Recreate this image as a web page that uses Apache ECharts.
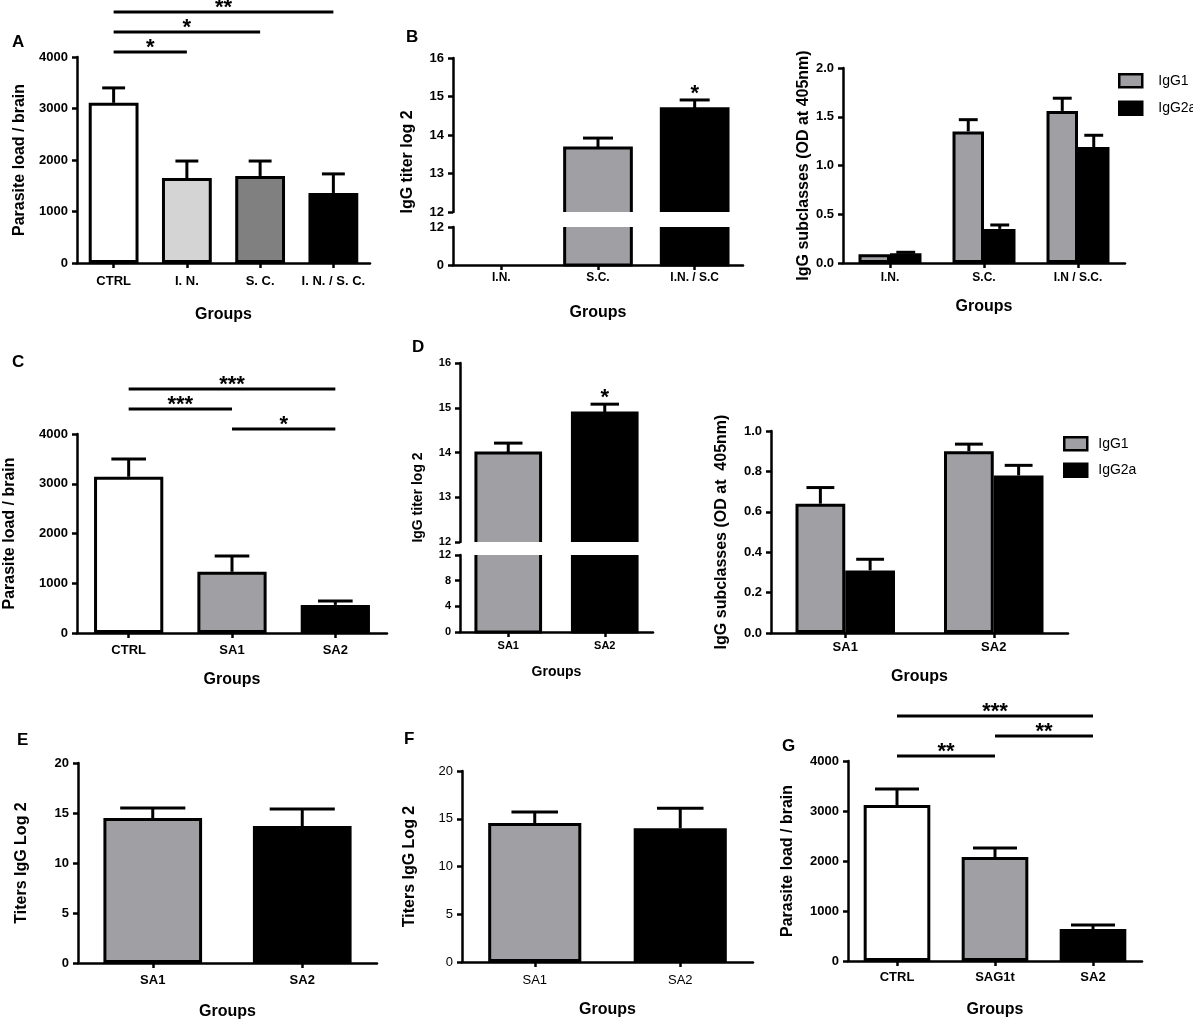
<!DOCTYPE html>
<html>
<head>
<meta charset="utf-8">
<script src="https://cdn.jsdelivr.net/npm/echarts@6/dist/echarts.min.js"></script>
<style>html,body{margin:0;padding:0;background:#fff}#c{width:1193px;height:1023px}</style>
</head>
<body>
<div id="c"></div>
<script>
// ---------- DATA ----------
// Panel A
const catA = ['CTRL', 'I. N.', 'S. C.', 'I. N. / S. C.'];
const valA = [3110, 1650, 1690, 1360];
const errA = [290, 330, 290, 370];
const sigA = [
  { from: 0, to: 1, level: 0, label: '*' },
  { from: 0, to: 2, level: 1, label: '*' },
  { from: 0, to: 3, level: 2, label: '**' }
];
// Panel B (titer)
const catB = ['I.N.', 'S.C.', 'I.N. / S.C'];
const valB = [0, 13.66, 14.68];
const errB = [0, 0.26, 0.23];
const starB = ['', '', '*'];
// Panel B (subclasses)
const catB2 = ['I.N.', 'S.C.', 'I.N / S.C.'];
const igg1B = [0.09, 1.35, 1.56];
const igg1BErr = [0.0, 0.12, 0.13];
const igg2aB = [0.10, 0.35, 1.19];
const igg2aBErr = [0.01, 0.04, 0.12];
// Panel C
const catC = ['CTRL', 'SA1', 'SA2'];
const valC = [3140, 1230, 565];
const errC = [360, 320, 80];
const sigC = [
  { from: 1, to: 2, level: 0, label: '*' },
  { from: 0, to: 1, level: 1, label: '***' },
  { from: 0, to: 2, level: 2, label: '***' }
];
// Panel D (titer)
const catD = ['SA1', 'SA2'];
const valD = [13.99, 14.88];
const errD = [0.22, 0.20];
const starD = ['', '*'];
// Panel D (subclasses)
const igg1D = [0.64, 0.90];
const igg1DErr = [0.08, 0.035];
const igg2aD = [0.31, 0.78];
const igg2aDErr = [0.055, 0.05];
// Panel E
const catE = ['SA1', 'SA2'];
const valE = [14.5, 13.7];
const errE = [1.0, 1.7];
// Panel F
const catF = ['SA1', 'SA2'];
const valF = [14.55, 14.0];
const errF = [1.15, 2.1];
// Panel G
const catG = ['CTRL', 'SAG1t', 'SA2'];
const valG = [3120, 2080, 640];
const errG = [320, 180, 80];
const sigG = [
  { from: 0, to: 1, level: 0, label: '**' },
  { from: 1, to: 2, level: 1, label: '**' },
  { from: 0, to: 2, level: 2, label: '***' }
];
const legendNames = ['IgG1', 'IgG2a'];

// ---------- STYLE ----------
const FONT = '"Liberation Sans", Arial, Helvetica, sans-serif';
const GRAY = '#a0a0a4';
const colA = ['#ffffff', '#d4d4d4', '#808080', '#000000'];
const col3 = ['#ffffff', GRAY, '#000000'];
const colB = [GRAY, GRAY, '#000000'];
const col2 = [GRAY, '#000000'];

const grids = [], xAxes = [], yAxes = [], series = [];
const plain = v => String(v);

function addGrid(g, x, y) {
  const gi = grids.length;
  grids.push(Object.assign({ containLabel: false, outerBoundsMode: 'none' }, g));
  const showX = x.show !== false;
  xAxes.push({
    type: 'category', gridIndex: gi, data: x.cats, z: 3,
    axisLine: { show: showX, onZero: false, lineStyle: { color: '#000', width: 2.5 } },
    axisTick: { show: showX, alignWithLabel: true, interval: 0, length: 5, lineStyle: { color: '#000', width: 2.5 } },
    axisLabel: { show: showX, interval: 0, color: '#000', fontFamily: FONT, fontSize: x.size || 13,
      fontWeight: x.weight || 'bold', margin: x.margin || 10 },
    splitLine: { show: false },
    name: showX ? 'Groups' : '', nameLocation: 'middle', nameGap: x.nameGap || 40,
    nameTextStyle: { color: '#000', fontFamily: FONT, fontSize: x.nameSize || 16, fontWeight: 'bold' }
  });
  yAxes.push({
    type: 'value', gridIndex: gi, min: y.min, max: y.max, interval: y.interval, z: 3,
    axisLine: { show: true, lineStyle: { color: '#000', width: 2.5 } },
    axisTick: { show: true, length: 5, lineStyle: { color: '#000', width: 2.5 } },
    axisLabel: { color: '#000', fontFamily: FONT, fontSize: y.size || 13, fontWeight: y.weight || 'bold',
      margin: y.margin || 9, formatter: y.fmt || plain },
    splitLine: { show: false },
    name: y.name || '', nameLocation: 'middle', nameGap: y.nameGap || 40, nameRotate: 90,
    nameTextStyle: { color: '#000', fontFamily: FONT, fontSize: y.nameSize || 16, fontWeight: 'bold',
      padding: y.namePad || 0 }
  });
  return gi;
}

function addBars(gi, name, vals, colors, gap) {
  series.push({
    type: 'bar', name: name, xAxisIndex: gi, yAxisIndex: gi, data: vals,
    barCategoryGap: gap, barGap: '0%', clip: true, z: 2, silent: true,
    itemStyle: {
      color: Array.isArray(colors) ? (p => colors[p.dataIndex]) : colors,
      borderColor: '#000', borderWidth: 3
    }
  });
}

// bars of a broken (split) axis: the side facing the break is left open
function addSplitBars(gi, vals, colors, gapFrac, lo, hi, part) {
  series.push({
    type: 'custom', xAxisIndex: gi, yAxisIndex: gi, z: 2, silent: true, clip: false,
    data: vals.map((v, i) => [i, v]),
    renderItem: (params, api) => {
      const i = api.value(0), v = api.value(1);
      if (!(v > lo)) return null;
      const band = api.size([1, 0])[0];
      const bw = band * (1 - gapFrac);
      const c = api.coord([i, lo]);
      const top = api.coord([i, Math.min(v, hi)])[1];
      const bot = c[1];
      const l = c[0] - bw / 2, r = c[0] + bw / 2;
      let pts;
      if (part === 'upper') pts = [[l, bot], [l, top], [r, top], [r, bot]];
      else if (v > hi) pts = [[l, top], [l, bot], [r, bot], [r, top]];
      else pts = [[l, bot], [l, top], [r, top], [r, bot], [l, bot]];
      return {
        type: 'group', children: [
          { type: 'rect', shape: { x: l, y: top, width: bw, height: bot - top }, style: { fill: colors[i] } },
          { type: 'polyline', shape: { points: pts }, style: { stroke: '#000', lineWidth: 3, fill: null } }
        ]
      };
    }
  });
}

function addErr(gi, vals, errs, gapFrac, nBars, offset, capFrac) {
  series.push({
    type: 'custom', xAxisIndex: gi, yAxisIndex: gi, z: 5, silent: true, clip: false,
    data: vals.map((v, i) => [i, v, errs[i]]),
    renderItem: (params, api) => {
      const i = api.value(0), v = api.value(1), e = api.value(2);
      if (!e) return null;
      const band = api.size([1, 0])[0];
      const bw = band * (1 - gapFrac) / nBars;
      const p0 = api.coord([i, v]), p1 = api.coord([i, v + e]);
      const cx = p0[0] + offset * bw / 2;
      const half = bw * capFrac / 2;
      return {
        type: 'group', children: [
          { type: 'line', shape: { x1: cx, y1: p0[1], x2: cx, y2: p1[1] }, style: { stroke: '#000', lineWidth: 3 } },
          { type: 'line', shape: { x1: cx - half, y1: p1[1], x2: cx + half, y2: p1[1] }, style: { stroke: '#000', lineWidth: 3 } }
        ]
      };
    }
  });
}

// asterisk placed above an error bar cap
function addStars(gi, vals, errs, stars) {
  series.push({
    type: 'custom', xAxisIndex: gi, yAxisIndex: gi, z: 5, silent: true, clip: false,
    data: vals.map((v, i) => [i, v, errs[i]]),
    renderItem: (params, api) => {
      const i = api.value(0);
      const lab = stars[params.dataIndex];
      if (!lab) return null;
      const p = api.coord([i, api.value(1) + api.value(2)]);
      return { type: 'text', x: p[0], y: p[1] - 6,
        style: { text: lab, fill: '#000', font: 'bold 22px ' + FONT, align: 'center', verticalAlign: 'middle' } };
    }
  });
}

function addSig(gi, sig, yMax) {
  series.push({
    type: 'custom', xAxisIndex: gi, yAxisIndex: gi, z: 5, silent: true, clip: false,
    data: sig.map(s => [s.from, s.to, s.level]),
    renderItem: (params, api) => {
      const s = sig[params.dataIndex];
      const a = api.coord([s.from, yMax]), b = api.coord([s.to, yMax]);
      const y = a[1] - 5 - s.level * 20;
      return {
        type: 'group', children: [
          { type: 'line', shape: { x1: a[0], y1: y, x2: b[0], y2: y }, style: { stroke: '#000', lineWidth: 3 } },
          { type: 'text', x: (a[0] + b[0]) / 2, y: y - 4,
            style: { text: s.label, fill: '#000', font: 'bold 22px ' + FONT, align: 'center', verticalAlign: 'middle' } }
        ]
      };
    }
  });
}

const f1 = v => v.toFixed(1);

// Panel A
let g = addGrid({ left: 77, top: 57, width: 293, height: 206 },
  { cats: catA, margin: 12, nameGap: 44 },
  { min: 0, max: 4000, interval: 1000, name: 'Parasite load / brain', nameGap: 49 });
addBars(g, 'A', valA, colA, '32%');
addErr(g, valA, errA, 0.32, 1, 0, 0.46);
addSig(g, sigA, 4000);

// Panel B titer - upper segment (12-16)
g = addGrid({ left: 453, top: 58, width: 290, height: 154 },
  { cats: catB, show: false },
  { min: 12, max: 16, interval: 1, name: 'IgG titer log 2', nameGap: 37, namePad: [0, 54, 0, 0] });
addSplitBars(g, valB, colB, 0.31, 12, 16, 'upper');
addErr(g, valB, errB, 0.31, 1, 0, 0.45);
addStars(g, valB, errB, starB);
// Panel B titer - lower segment (0-12)
g = addGrid({ left: 453, top: 227, width: 290, height: 38 },
  { cats: catB, margin: 7, nameGap: 40, size: 12 },
  { min: 0, max: 12, interval: 12 });
addSplitBars(g, valB, colB, 0.31, 0, 12, 'lower');

// Panel B subclasses
g = addGrid({ left: 843, top: 68, width: 282, height: 195 },
  { cats: catB2, margin: 9, nameGap: 36, size: 12 },
  { min: 0, max: 2, interval: 0.5, fmt: f1, name: 'IgG subclasses (OD at 405nm)', nameGap: 30 });
addBars(g, 'IgG1', igg1B, GRAY, '33%');
addBars(g, 'IgG2a', igg2aB, '#000000', '33%');
addErr(g, igg1B, igg1BErr, 0.33, 2, -1, 0.6);
addErr(g, igg2aB, igg2aBErr, 0.33, 2, 1, 0.6);

// Panel C
g = addGrid({ left: 77, top: 434, width: 310, height: 199 },
  { cats: catC, margin: 11, nameGap: 39 },
  { min: 0, max: 4000, interval: 1000, name: 'Parasite load / brain', nameGap: 59 });
addBars(g, 'C', valC, col3, '33%');
addErr(g, valC, errC, 0.33, 1, 0, 0.5);
addSig(g, sigC, 4000);

// Panel D titer - upper segment (12-16)
g = addGrid({ left: 460, top: 363, width: 193, height: 179 },
  { cats: catD, show: false },
  { min: 12, max: 16, interval: 1, size: 11, name: 'IgG titer log 2', nameSize: 14, nameGap: 35, namePad: [0, 90, 0, 0] });
addSplitBars(g, valD, col2, 0.33, 12, 16, 'upper');
addErr(g, valD, errD, 0.33, 1, 0, 0.44);
addStars(g, valD, errD, starD);
// Panel D titer - lower segment (0-12)
g = addGrid({ left: 460, top: 555, width: 193, height: 77 },
  { cats: catD, margin: 8, nameGap: 33, size: 11, nameSize: 14 },
  { min: 0, max: 12, interval: 4, size: 11 });
addSplitBars(g, valD, col2, 0.33, 0, 12, 'lower');

// Panel D subclasses
g = addGrid({ left: 771, top: 431, width: 297, height: 202 },
  { cats: catD, margin: 8, nameGap: 36 },
  { min: 0, max: 1, interval: 0.2, fmt: f1, name: 'IgG subclasses (OD at  405nm)', nameGap: 41 });
addBars(g, 'IgG1', igg1D, GRAY, '33%');
addBars(g, 'IgG2a', igg2aD, '#000000', '33%');
addErr(g, igg1D, igg1DErr, 0.33, 2, -1, 0.56);
addErr(g, igg2aD, igg2aDErr, 0.33, 2, 1, 0.56);

// Panel E
g = addGrid({ left: 78, top: 763, width: 299, height: 200 },
  { cats: catE, margin: 11, nameGap: 41 },
  { min: 0, max: 20, interval: 5, name: 'Titers IgG Log 2', nameGap: 48 });
addBars(g, 'E', valE, col2, '34%');
addErr(g, valE, errE, 0.34, 1, 0, 0.66);

// Panel F
g = addGrid({ left: 462, top: 771, width: 291, height: 191 },
  { cats: catF, margin: 12, nameGap: 40, weight: 'normal' },
  { min: 0, max: 20, interval: 5, weight: 'normal', name: 'Titers IgG Log 2', nameGap: 44 });
addBars(g, 'F', valF, col2, '36%');
addErr(g, valF, errF, 0.36, 1, 0, 0.5);

// Panel G
g = addGrid({ left: 848, top: 761, width: 294, height: 200 },
  { cats: catG, margin: 10, nameGap: 41 },
  { min: 0, max: 4000, interval: 1000, name: 'Parasite load / brain', nameGap: 52 });
addBars(g, 'G', valG, col3, '32%');
addErr(g, valG, errG, 0.32, 1, 0, 0.66);
addSig(g, sigG, 4000);

// Panel letters
const letters = [['A', 12, 34], ['B', 406, 29], ['C', 12, 354], ['D', 412, 339], ['E', 17, 732], ['F', 404, 731], ['G', 782, 738]];
const titles = letters.map(l => ({
  text: l[0], left: l[1], top: l[2], padding: 0,
  textStyle: { fontSize: 17, fontWeight: 'bold', fontFamily: FONT, color: '#000' }
}));

const legendBase = {
  data: legendNames, orient: 'vertical', icon: 'rect', itemWidth: 23, itemHeight: 13,
  selectedMode: false, padding: 0,
  itemStyle: { borderColor: '#000', borderWidth: 2.5 },
  textStyle: { fontSize: 14, fontFamily: FONT, color: '#000' }
};
const legends = [
  Object.assign({}, legendBase, { left: 1118, top: 73, itemGap: 12,
    textStyle: Object.assign({}, legendBase.textStyle, { padding: [0, 0, 0, 11] }) }),
  Object.assign({}, legendBase, { left: 1063, top: 436, itemGap: 11,
    textStyle: Object.assign({}, legendBase.textStyle, { padding: [0, 0, 0, 6] }) })
];

const chart = echarts.init(document.getElementById('c'), null, { renderer: 'canvas' });
chart.setOption({
  animation: false,
  backgroundColor: '#ffffff',
  title: titles,
  legend: legends,
  grid: grids,
  xAxis: xAxes,
  yAxis: yAxes,
  series: series
});
</script>
</body>
</html>
